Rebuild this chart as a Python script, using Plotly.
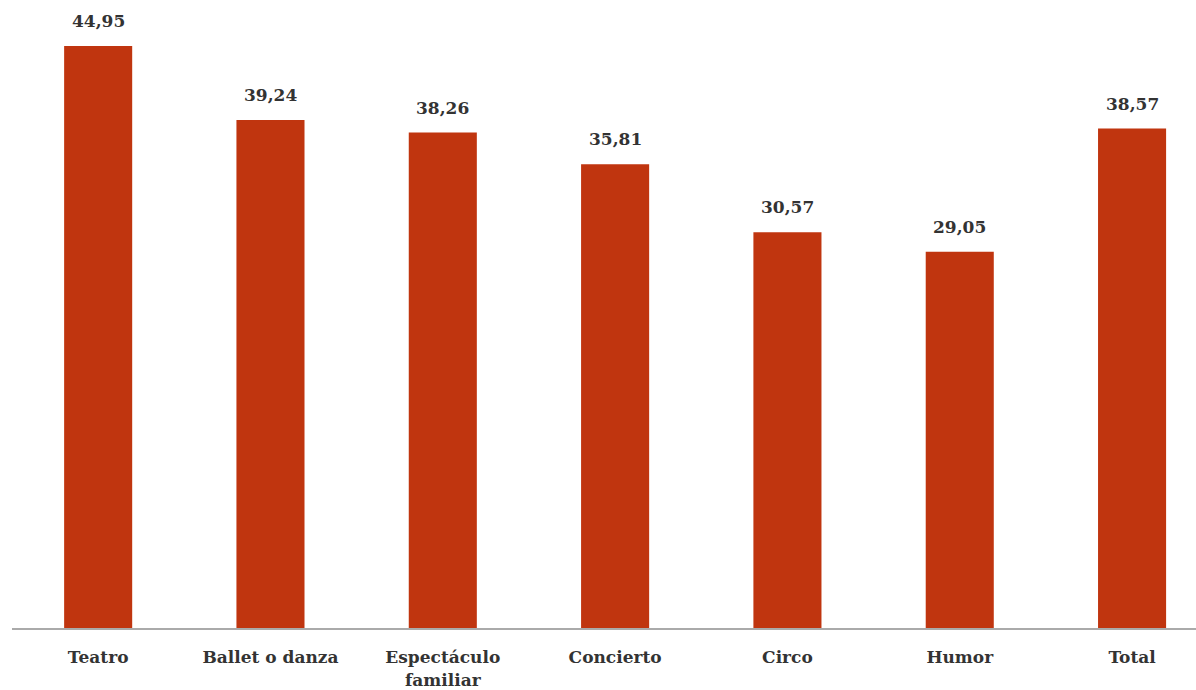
import plotly.graph_objects as go

categories = ["Teatro", "Ballet o danza", "Espectáculo familiar", "Concierto", "Circo", "Humor", "Total"]
tick_labels = ["Teatro", "Ballet o danza", "Espectáculo<br>familiar", "Concierto", "Circo", "Humor", "Total"]
values = [44.95, 39.24, 38.26, 35.81, 30.57, 29.05, 38.57]

bar_color = "#C0350F"
text_color = "#333333"
font_family = "DejaVu Serif"

x_pos = list(range(len(categories)))

fig = go.Figure(
    go.Bar(
        x=x_pos,
        y=values,
        width=0.395,
        marker=dict(color=bar_color, line=dict(width=0)),
        hoverinfo="skip",
    )
)

for xi, v in zip(x_pos, values):
    fig.add_annotation(
        x=xi, y=v, text=f"<b>{v:.2f}</b>".replace(".", ","),
        showarrow=False, yanchor="bottom", yshift=13,
        font=dict(family=font_family, size=17, color=text_color),
    )

fig.update_layout(
    width=1196, height=690,
    margin=dict(l=12, r=0, t=0, b=60),
    plot_bgcolor="white", paper_bgcolor="white",
    showlegend=False,
    xaxis=dict(
        range=[-0.5, 6.371],
        tickmode="array", tickvals=x_pos,
        ticktext=[f"<b>{t}</b>" for t in tick_labels],
        tickfont=dict(family=font_family, size=17, color=text_color),
        showline=True, linecolor="#AAAAAA", linewidth=2,
        showgrid=False, zeroline=False, ticks="",
        ticklabelstandoff=13,
        fixedrange=True,
    ),
    yaxis=dict(
        range=[0, 48.5], visible=False, showgrid=False, zeroline=False,
        fixedrange=True,
    ),
)

fig.write_html("out.html")
